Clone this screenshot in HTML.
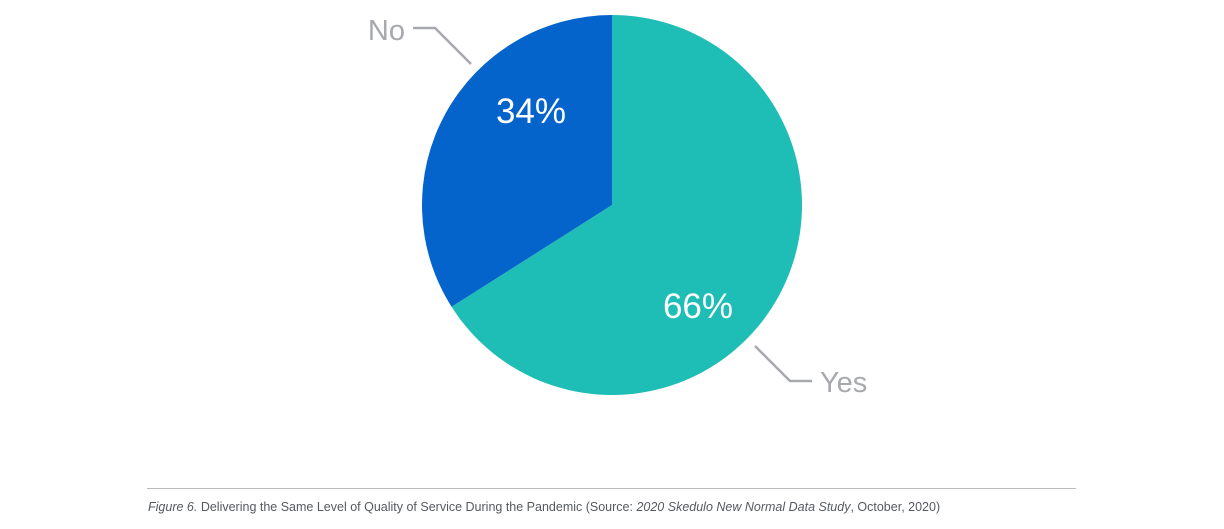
<!DOCTYPE html>
<html><head><meta charset="utf-8"><style>
body{margin:0;background:#fff;width:1224px;height:524px;overflow:hidden;font-family:"Liberation Sans",sans-serif}
</style></head><body>
<svg width="1224" height="524" id="chart">
<line x1="147" y1="488.5" x2="1076" y2="488.5" stroke="#b9bbbf" stroke-width="1"/>
<text x="148" y="511" font-size="12.5" fill="#555a60"><tspan font-style="italic">Figure 6.</tspan> Delivering the Same Level of Quality of Service During the Pandemic (Source: <tspan font-style="italic">2020 Skedulo New Normal Data Study</tspan>, October, 2020)</text>
</svg>
<script>
const categories=["Yes","No"];
const values=[66,34];
const colors=["#1ebdb5","#0563cc"];
const svg=document.getElementById('chart');
const NS="http://www.w3.org/2000/svg";
const cx=612,cy=205,r=190;
function pt(frac,rad){const a=frac*2*Math.PI;return [cx+rad*Math.sin(a),cy-rad*Math.cos(a)];}
const total=values.reduce((a,b)=>a+b,0);
let acc=0;
const labelPos=[[698,318],[531,123]];
values.forEach((v,i)=>{
  const f0=acc/total,f1=(acc+v)/total;acc+=v;
  const p0=pt(f0,r),p1=pt(f1,r);
  const large=(f1-f0)>0.5?1:0;
  const p=document.createElementNS(NS,'path');
  p.setAttribute('d',`M${cx},${cy}L${p0[0]},${p0[1]}A${r},${r} 0 ${large} 1 ${p1[0]},${p1[1]}Z`);
  p.setAttribute('fill',colors[i]);
  
  
  svg.appendChild(p);
  const t=document.createElementNS(NS,'text');
  t.setAttribute('x',labelPos[i][0]);t.setAttribute('y',labelPos[i][1]);
  t.setAttribute('text-anchor','middle');t.setAttribute('font-size','35');t.setAttribute('fill','#fff');
  t.textContent=v+'%';
  
  
  svg.appendChild(t);
});
const leaders=[{pts:"755,346 790,381 812,381",tx:820,ty:392,anchor:"start"},{pts:"471,64 435,28 413,28",tx:405,ty:40,anchor:"end"}];
leaders.forEach((l,i)=>{
  const pl=document.createElementNS(NS,'polyline');
  pl.setAttribute('points',l.pts);pl.setAttribute('fill','none');pl.setAttribute('stroke','#a7a9ae');pl.setAttribute('stroke-width','2.5');
  
  
  svg.appendChild(pl);
  const t=document.createElementNS(NS,'text');
  t.setAttribute('x',l.tx);t.setAttribute('y',l.ty);t.setAttribute('text-anchor',l.anchor);
  t.setAttribute('font-size','29');t.setAttribute('fill','#a7a9ae');
  t.textContent=categories[i];
  
  
  svg.appendChild(t);
});
</script>
</body></html>
